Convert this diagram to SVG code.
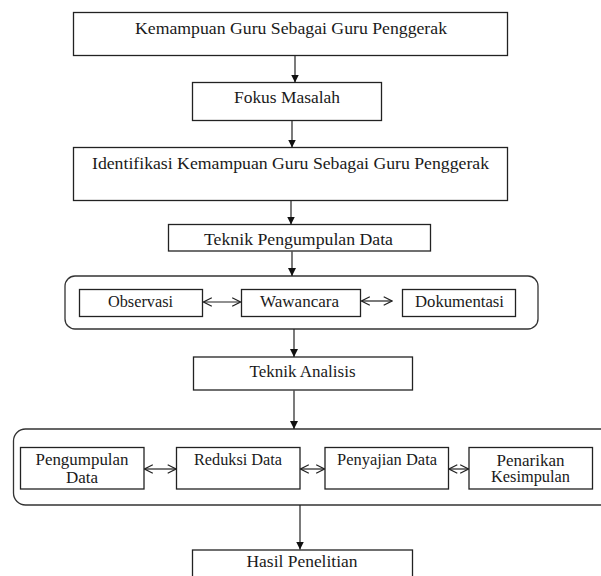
<svg xmlns="http://www.w3.org/2000/svg" width="601" height="576" viewBox="0 0 601 576">
<style>
.box{fill:#fff;stroke:#222;stroke-width:1.3}
.grp{fill:none;stroke:#333;stroke-width:1.3}
.t{font-family:"Liberation Serif","Times New Roman",serif;font-size:16px;fill:#1a1a1a;text-anchor:middle}
.ln{stroke:#222;stroke-width:1.2;fill:none}
.down{marker-end:url(#tri)}
.dbl{marker-start:url(#chev);marker-end:url(#chev)}
</style>
<defs>
<marker id="tri" viewBox="0 0 8 8" refX="8" refY="4" markerWidth="8" markerHeight="8" markerUnits="userSpaceOnUse" orient="auto">
<path d="M0,0 L8,4 L0,8 Z" fill="#111"/>
</marker>
<marker id="chev" viewBox="0 0 10 10" refX="9.3" refY="5" markerWidth="10" markerHeight="10" markerUnits="userSpaceOnUse" orient="auto-start-reverse">
<path d="M1,0.8 L9.3,5 L1,9.2" fill="none" stroke="#222" stroke-width="1.2"/>
</marker>
</defs>

<g id="n1"><rect class="box" x="73.5" y="12.5" width="434" height="43"/><text class="t" x="291" y="34" textLength="312" lengthAdjust="spacingAndGlyphs">Kemampuan Guru Sebagai Guru Penggerak</text></g>
<g id="n2"><rect class="box" x="192.5" y="82.5" width="189" height="38"/><text class="t" x="287" y="103" textLength="106" lengthAdjust="spacingAndGlyphs">Fokus Masalah</text></g>
<g id="n3"><rect class="box" x="73.5" y="147.5" width="434" height="53"/><text class="t" x="290.5" y="169" textLength="397" lengthAdjust="spacingAndGlyphs">Identifikasi Kemampuan Guru Sebagai Guru Penggerak</text></g>
<g id="n4"><rect class="box" x="168.5" y="224.5" width="262" height="26.5"/><text class="t" x="298.5" y="245" textLength="189" lengthAdjust="spacingAndGlyphs">Teknik Pengumpulan Data</text></g>

<g id="g1"><rect class="grp" x="65" y="276" width="473" height="53" rx="10"/></g>
<g id="n5"><rect class="box" x="79.5" y="289.5" width="123" height="27"/><text class="t" x="140.5" y="307" textLength="65" lengthAdjust="spacingAndGlyphs">Observasi</text></g>
<g id="n6"><rect class="box" x="241.5" y="289.5" width="119" height="27"/><text class="t" x="299.5" y="306.5" textLength="79" lengthAdjust="spacingAndGlyphs">Wawancara</text></g>
<g id="n7"><rect class="box" x="402.5" y="289.5" width="113" height="27"/><text class="t" x="459.5" y="307" textLength="89" lengthAdjust="spacingAndGlyphs">Dokumentasi</text></g>

<g id="n8"><rect class="box" x="193.5" y="357" width="219" height="33"/><text class="t" x="302.5" y="377" textLength="106" lengthAdjust="spacingAndGlyphs">Teknik Analisis</text></g>

<g id="g2"><rect class="grp" x="13.5" y="429" width="620" height="76" rx="12"/></g>
<g id="n9"><rect class="box" x="20.5" y="447.5" width="123.5" height="41.5"/><text class="t" x="82" y="465" textLength="93" lengthAdjust="spacingAndGlyphs">Pengumpulan</text><text class="t" x="82" y="482.5" textLength="32" lengthAdjust="spacingAndGlyphs">Data</text></g>
<g id="n10"><rect class="box" x="176.5" y="447.5" width="123.5" height="41.5"/><text class="t" x="238" y="465" textLength="88" lengthAdjust="spacingAndGlyphs">Reduksi Data</text></g>
<g id="n11"><rect class="box" x="325" y="447.5" width="123.5" height="41.5"/><text class="t" x="387" y="465" textLength="100" lengthAdjust="spacingAndGlyphs">Penyajian Data</text></g>
<g id="n12"><rect class="box" x="469" y="447.5" width="123.5" height="41.5"/><text class="t" x="530.5" y="465.5" textLength="68" lengthAdjust="spacingAndGlyphs">Penarikan</text><text class="t" x="530.5" y="482" textLength="79" lengthAdjust="spacingAndGlyphs">Kesimpulan</text></g>

<g id="n13"><rect class="box" x="192.5" y="550" width="220" height="40"/><text class="t" x="302" y="566.5" textLength="111" lengthAdjust="spacingAndGlyphs">Hasil Penelitian</text></g>

<g id="connectors">
<line class="ln down" x1="295" y1="56" x2="295" y2="82.5"/>
<line class="ln down" x1="292" y1="121" x2="292" y2="147.5"/>
<line class="ln down" x1="291" y1="201" x2="291" y2="224.5"/>
<line class="ln down" x1="292" y1="251.5" x2="292" y2="276"/>
<line class="ln down" x1="294" y1="329" x2="294" y2="357"/>
<line class="ln down" x1="294" y1="390.5" x2="294" y2="429"/>
<line class="ln down" x1="300" y1="505" x2="300" y2="549.5"/>
<line class="ln dbl" x1="203.5" y1="302" x2="240.5" y2="302"/>
<line class="ln dbl" x1="361.5" y1="301" x2="392" y2="301"/>
<line class="ln dbl" x1="144.5" y1="469" x2="176" y2="469"/>
<line class="ln dbl" x1="300.5" y1="469" x2="324.5" y2="469"/>
<line class="ln dbl" x1="449" y1="469" x2="468.5" y2="469"/>
</g>
</svg>
